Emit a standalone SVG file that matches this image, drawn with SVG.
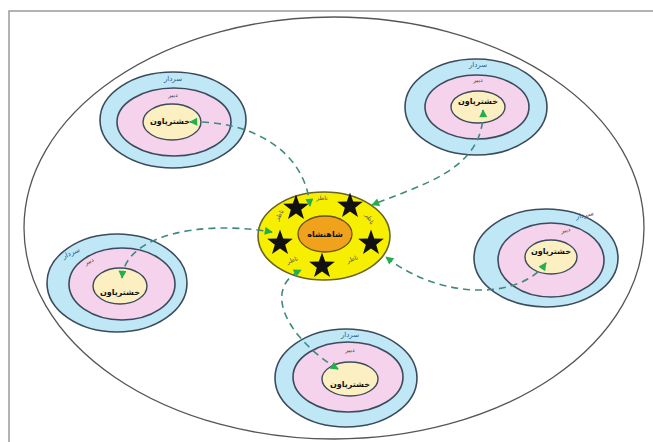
<svg xmlns="http://www.w3.org/2000/svg" width="653" height="442" viewBox="0 0 653 442">
<style>
.ring1{fill:#bfe7f6;stroke:#3c4b5c;stroke-width:1.6}
.ring2{fill:#f6d3ec;stroke:#3c4b5c;stroke-width:1.6}
.ring3{fill:#fcf0c2;stroke:#3c4b5c;stroke-width:1.4}
.t1{font-family:"DejaVu Sans",sans-serif;font-size:7px;fill:#2a5a8a;text-anchor:middle}
.t2{font-family:"DejaVu Sans",sans-serif;font-size:6px;fill:#444;text-anchor:middle}
.t3{font-family:"DejaVu Sans",sans-serif;font-size:8px;font-weight:bold;fill:#111;text-anchor:middle}
.tn{font-family:"DejaVu Sans",sans-serif;font-size:6px;fill:#555;text-anchor:middle}
.conn{fill:none;stroke:#3f8a7e;stroke-width:1.6;stroke-dasharray:7 5;marker-start:url(#arr);marker-end:url(#arr)}
</style>
<defs>
<marker id="arr" viewBox="0 0 10 10" refX="9" refY="5" markerWidth="9" markerHeight="8" markerUnits="userSpaceOnUse" orient="auto-start-reverse">
<path d="M0 0 L10 5 L0 10 Z" fill="#22b04a"/>
</marker>
<path id="star" d="M0,-13.5 L3.2,-4.4 L12.8,-4.2 L5.2,1.7 L8,10.9 L0,5.4 L-8,10.9 L-5.2,1.7 L-12.8,-4.2 L-3.2,-4.4 Z" fill="#111"/>
</defs>
<rect x="9" y="11" width="660" height="450" fill="#fff" stroke="#9a9a9a" stroke-width="1.5"/>
<ellipse cx="334" cy="228" rx="310" ry="211" fill="#fff" stroke="#555" stroke-width="1.3"/>

<g id="node-tl">
<ellipse class="ring1" cx="173" cy="120" rx="73" ry="48"/>
<ellipse class="ring2" cx="174" cy="122" rx="57" ry="34"/>
<ellipse class="ring3" cx="172" cy="122" rx="29" ry="18"/>
<text class="t1" x="173" y="81">سردار</text>
<text class="t2" x="173" y="97">دبیر</text>
<text class="t3" x="170" y="124">خشترپاون</text>
</g>
<g id="node-tr">
<ellipse class="ring1" cx="476" cy="107" rx="71" ry="48"/>
<ellipse class="ring2" cx="477" cy="107" rx="52" ry="32"/>
<ellipse class="ring3" cx="478" cy="107" rx="27" ry="16"/>
<text class="t1" x="478" y="67">سردار</text>
<text class="t2" x="478" y="82">دبیر</text>
<text class="t3" x="478" y="104">خشترپاون</text>
</g>
<g id="node-l">
<ellipse class="ring1" cx="117" cy="283" rx="70" ry="49"/>
<ellipse class="ring2" cx="122" cy="284" rx="53" ry="36"/>
<ellipse class="ring3" cx="120" cy="286" rx="27" ry="18"/>
<text class="t1" x="72" y="255" transform="rotate(-25 72 255)">سردار</text>
<text class="t2" x="90" y="263" transform="rotate(-25 90 263)">دبیر</text>
<text class="t3" x="120" y="295">خشترپاون</text>
</g>
<g id="node-r">
<ellipse class="ring1" cx="546" cy="258" rx="72" ry="49"/>
<ellipse class="ring2" cx="551" cy="260" rx="53" ry="37"/>
<ellipse class="ring3" cx="551" cy="257" rx="26" ry="17"/>
<text class="t1" x="585" y="217" transform="rotate(-12 585 217)">سردار</text>
<text class="t2" x="566" y="232" transform="rotate(-12 566 232)">دبیر</text>
<text class="t3" x="551" y="254">خشترپاون</text>
</g>
<g id="node-b">
<ellipse class="ring1" cx="346" cy="378" rx="71" ry="49"/>
<ellipse class="ring2" cx="348" cy="377" rx="55" ry="35"/>
<ellipse class="ring3" cx="350" cy="379" rx="28" ry="17"/>
<text class="t1" x="350" y="337">سردار</text>
<text class="t2" x="350" y="352">دبیر</text>
<text class="t3" x="350" y="387">خشترپاون</text>
</g>

<g id="node-center">
<ellipse cx="324" cy="236" rx="66" ry="44" fill="#f7ef00" stroke="#6a6420" stroke-width="1.6"/>
<ellipse cx="325" cy="234" rx="27" ry="18" fill="#f0a21c" stroke="#6a5020" stroke-width="1.3"/>
<text class="t3" x="325" y="237">شاهنشاه</text>
<use href="#star" x="296" y="208"/>
<use href="#star" x="350" y="206"/>
<use href="#star" x="371" y="243"/>
<use href="#star" x="280" y="243"/>
<use href="#star" x="322" y="266"/>
<text class="tn" x="322" y="200">ناظر</text>
<text class="tn" x="368" y="220" transform="rotate(60 368 220)">ناظر</text>
<text class="tn" x="281" y="216" transform="rotate(-60 281 216)">ناظر</text>
<text class="tn" x="293" y="262" transform="rotate(-20 293 262)">ناظر</text>
<text class="tn" x="353" y="261" transform="rotate(-20 353 261)">ناظر</text>
</g>

<g id="connectors">
<path class="conn" d="M190 122 C250 120 305 150 310 206"/>
<path class="conn" d="M483 110 C485 170 420 185 372 205"/>
<path class="conn" d="M122 278 C125 235 200 220 272 232"/>
<path class="conn" d="M546 263 C520 300 440 300 386 257"/>
<path class="conn" d="M338 369 C290 340 260 290 301 270"/>
</g>
</svg>
